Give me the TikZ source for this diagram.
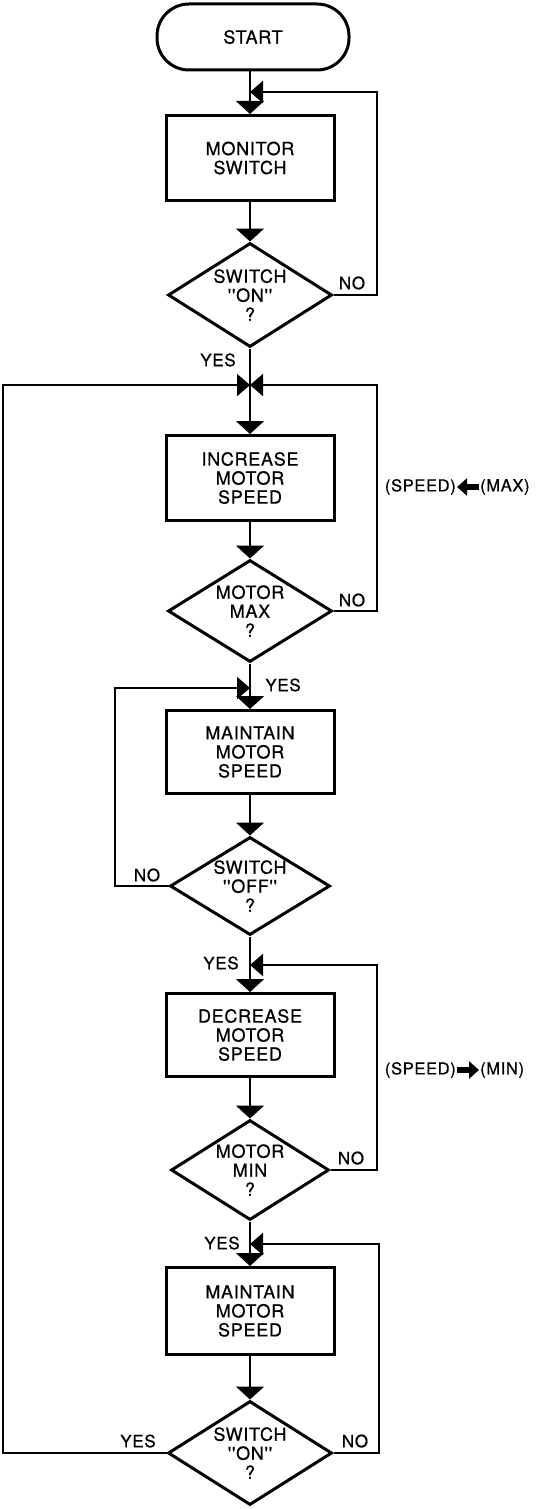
\documentclass[tikz,border=0pt]{standalone}
\usepackage{fontspec}
\setmainfont{TeX Gyre Heros}
\newfontfamily\fcfont{TeX Gyre Heros}[FakeBold=0.7, LetterSpace=4]
\usetikzlibrary{shapes.geometric,arrows.meta}
\begin{document}
\begin{tikzpicture}[x=1pt,y=-1pt,
  startbox/.style={draw, line width=3pt, rounded corners=32pt, minimum width=192pt, minimum height=66pt, inner sep=0pt, font=\fcfont\fontsize{18}{19}\selectfont},
  box/.style={draw, line width=3pt, minimum width=168pt, minimum height=85pt, inner sep=0pt, align=center, font=\fcfont\fontsize{18}{19}\selectfont},
  dec/.style={draw, diamond, aspect=1.6, line width=3pt, minimum width=164pt, minimum height=104pt, inner sep=0pt, align=center, font=\fcfont\fontsize{18}{19}\selectfont},
  flow/.style={line width=2pt},
  down/.style={flow, -{Triangle[width=28pt,length=13pt]}},
  side/.style={flow, -{Triangle[width=22pt,length=13pt]}},
  fat/.style={line width=6pt, -{Triangle[width=17pt,length=10pt]}, shorten <=1pt, shorten >=1pt},
  lbl/.style={font=\fcfont\fontsize{17}{17}\selectfont, inner sep=0pt},
  note/.style={font=\fcfont\fontsize{16.5}{17}\selectfont, inner sep=0pt},
]
\useasboundingbox (0,0) rectangle (537,1509);

% nodes
\node[startbox] (start) at (253,37) {START};
\node[box] (mon) at (250,158) {MONITOR\\SWITCH};
\node[dec] (d1) at (250,295) {SWITCH\\''ON''\\?};
\node[box] (inc) at (250,478) {INCREASE\\MOTOR\\SPEED};
\node[dec, minimum height=102pt] (d2) at (250,611) {MOTOR\\MAX\\?};
\node[box, minimum height=83pt] (mt1) at (250,752) {MAINTAIN\\MOTOR\\SPEED};
\node[dec, minimum height=98pt, minimum width=160pt] (d3) at (250,886) {SWITCH\\''OFF''\\?};
\node[box, minimum height=83pt] (dcr) at (250,1035) {DECREASE\\MOTOR\\SPEED};
\node[dec, minimum height=100pt, minimum width=158pt] (d4) at (250,1170) {MOTOR\\MIN\\?};
\node[box, minimum height=87pt] (mt2) at (250,1311) {MAINTAIN\\MOTOR\\SPEED};
\node[dec, minimum height=104pt] (d5) at (250,1453) {SWITCH\\''ON''\\?};

% merge points
\coordinate (m1) at (250,92);
\coordinate (m2) at (250,385);
\coordinate (m3) at (250,688);
\coordinate (m4) at (250,965);
\coordinate (m5) at (250,1244);

% main flow
\draw[down] (start.south -| mon.north) -- (mon.north);
\draw[down] (mon.south) -- (d1.north);
\draw[flow] (d1.south) -- (m2);
\draw[down] (m2) -- (inc.north);
\draw[down] (inc.south) -- (d2.north);
\draw[flow] (d2.south) -- (m3);
\draw[down] (m3) -- (mt1.north);
\draw[down] (mt1.south) -- (d3.north);
\draw[flow] (d3.south) -- (m4);
\draw[down] (m4) -- (dcr.north);
\draw[down] (dcr.south) -- (d4.north);
\draw[flow] (d4.south) -- (m5);
\draw[down] (m5) -- (mt2.north);
\draw[down] (mt2.south) -- (d5.north);

% loops
\draw[side] (d1.east) -- ++(43,0) |- (m1);
\draw[side] (d2.east) -- ++(43,0) |- (m2);
\draw[side] (d3.west) -- ++(-54,0) |- (m3);
\draw[side] (d4.east) -- ++(46,0) |- (m4);
\draw[side] (d5.east) -- ++(45,0) |- (m5);
\draw[side] (d5.west) -- ++(-164,0) |- (m2);

% labels
\node[lbl] (no1) at (352,283) {NO};
\node[lbl] (yes1) at (218,360) {YES};
\node[lbl] (no2) at (352,600) {NO};
\node[lbl] (yes2) at (283,685) {YES};
\node[lbl] (no3) at (147,875) {NO};
\node[lbl] (yes3) at (221,963) {YES};
\node[lbl] (no4) at (351,1158) {NO};
\node[lbl] (yes4) at (222,1243) {YES};
\node[lbl] (yes5) at (138,1441) {YES};
\node[lbl] (no5) at (355,1441) {NO};

% side notes
\node[note, anchor=east] (sp1) at (456,487) {(SPEED)};
\node[note, anchor=west] (mx) at (480,487) {(MAX)};
\draw[fat] (mx.west) -- (sp1.east);
\node[note, anchor=east] (sp2) at (456,1070) {(SPEED)};
\node[note, anchor=west] (mn) at (480,1070) {(MIN)};
\draw[fat] (sp2.east) -- (mn.west);
\end{tikzpicture}
\end{document}
